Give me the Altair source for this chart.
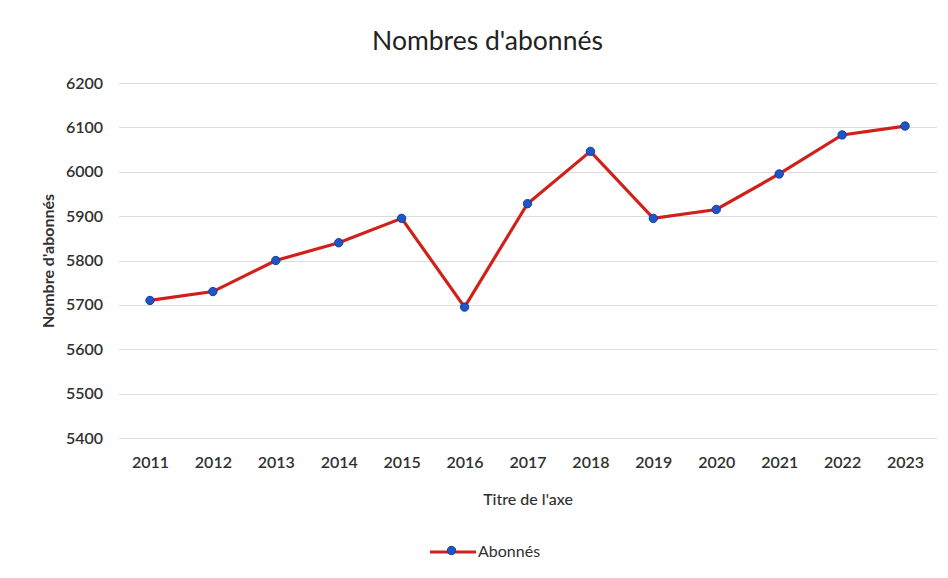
import altair as alt
import pandas as pd

years = ["2011", "2012", "2013", "2014", "2015", "2016", "2017",
         "2018", "2019", "2020", "2021", "2022", "2023"]
abonnes = [5710, 5730, 5800, 5840, 5895, 5695, 5928, 6046, 5895, 5915, 5995, 6083, 6103]
serie_name = "Abonnés"
y_ticks = [5400, 5500, 5600, 5700, 5800, 5900, 6000, 6100, 6200]

df = pd.DataFrame({
    "annee": years,
    "abonnes": abonnes,
    "serie": [serie_name] * len(years),
    "serie_pt": [serie_name] * len(years),
})

FONT = "Lato"
TXT = "#303030"
RED = "#d0201a"
BLUE = "#1c56c8"
BLUE_DARK = "#143f9a"

x = alt.X(
    "annee:O",
    title="Titre de l'axe",
    scale=alt.Scale(type="point", padding=0.5),
    axis=alt.Axis(
        labelAngle=0, domain=False, ticks=False, grid=False,
        labelPadding=16, labelFont=FONT, labelFontSize=16, labelFontWeight=600,
        labelColor=TXT, title="Titre de l'axe", titleFont=FONT, titleFontSize=16,
        titleFontWeight=500, titleColor=TXT, titleY=61, titleBaseline="middle",
    ),
)
y = alt.Y(
    "abonnes:Q",
    title="Nombre d'abonnés",
    scale=alt.Scale(domain=[5400, 6200], nice=False, zero=False),
    axis=alt.Axis(
        values=y_ticks, format="d", domain=False, ticks=False, grid=True,
        gridColor="#dcdcdc", gridWidth=1,
        labelPadding=16, labelFont=FONT, labelFontSize=16, labelFontWeight=600,
        labelColor=TXT, titleFont=FONT, titleFontSize=16, titleFontWeight="bold",
        titleColor=TXT, titleX=-70.5, titleY=177.5, titleAngle=-90,
        titleAlign="center", titleBaseline="middle",
    ),
)

line = alt.Chart(df).mark_line(strokeWidth=3.2).encode(
    x=x, y=y,
    stroke=alt.Stroke(
        "serie:N",
        scale=alt.Scale(range=[RED]),
        legend=alt.Legend(
            title=None, orient="none", legendX=309.5, legendY=444,
            symbolType="stroke", symbolSize=2116, symbolStrokeWidth=3.2,
            labelFont=FONT, labelFontSize=16, labelColor=TXT, labelOffset=0,
        ),
    ),
)

pts = alt.Chart(df).mark_point(
    filled=True, size=70, opacity=1, stroke=BLUE_DARK, strokeWidth=1
).encode(
    x=x, y=y,
    fill=alt.Fill(
        "serie_pt:N",
        scale=alt.Scale(range=[BLUE]),
        legend=alt.Legend(
            title=None, orient="none", legendX=328, legendY=462.5,
            symbolType="circle", symbolSize=70, symbolOpacity=1,
            symbolStrokeColor=BLUE_DARK, symbolStrokeWidth=1,
            labelOpacity=0, labelFontSize=1, zindex=2,
        ),
    ),
)

chart = alt.layer(line, pts).resolve_scale(fill="independent", stroke="independent").properties(
    width=818,
    height=355,
    autosize=alt.AutoSizeParams(type="none"),
    padding={"left": 110.5, "top": 75, "right": 3.5, "bottom": 132},
    background="white",
    title=alt.TitleParams(
        "Nombres d'abonnés", font=FONT, fontSize=26.5, fontWeight="normal",
        color="#222222", anchor="middle", frame="group", baseline="alphabetic",
        offset=33, dx=-40, dy=34,
    ),
).configure_view(stroke=None)

chart.save("out.html", embed_options={"renderer": "svg", "actions": False})
